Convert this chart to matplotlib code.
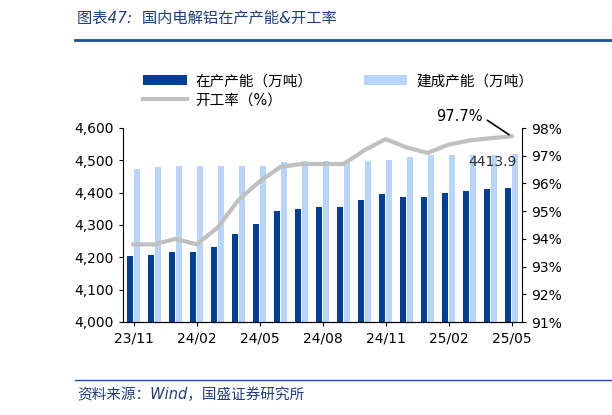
import matplotlib
matplotlib.use("Agg")
import matplotlib.pyplot as plt
import numpy as np

plt.rcParams['font.family'] = ['DejaVu Sans', 'Noto Sans CJK SC']

months = ["23/11","23/12","24/01","24/02","24/03","24/04","24/05","24/06","24/07","24/08",
          "24/09","24/10","24/11","24/12","25/01","25/02","25/03","25/04","25/05"]
running = [4203,4206,4215,4215,4232,4272,4304,4343,4351,4355,4355,4377,4397,4388,4388,4399,4404,4410,4413.9]
built = [4474,4479,4483,4483,4483,4483,4483,4494,4499,4499,4499,4499,4502,4511,4518,4516,4516,4516,4519]
rate = [93.8,93.8,94.0,93.8,94.4,95.4,96.07,96.6,96.7,96.7,96.7,97.2,97.6,97.3,97.1,97.4,97.55,97.63,97.7]

fig = plt.figure(figsize=(6.12,4.15), dpi=100)
ax = fig.add_axes([123/612, 1-322/415, 399/612, 194/415])
x = np.arange(len(months))
w = 0.3
ax.bar(x-w/2-0.01, running, w, color='#003f98', label='在产产能（万吨）', zorder=2)
ax.bar(x+w/2+0.01, built, w, color='#b8d6fd', label='建成产能（万吨）', zorder=2)
ax.set_ylim(4000,4600)
ax.set_yticks(range(4000,4601,100))
ax.set_yticklabels([f"{v:,}" for v in range(4000,4601,100)])
ax.set_xlim(-0.5, len(months)-0.5)
ax.set_xticks(x[::3])
ax.set_xticklabels(months[::3])
ax.tick_params(labelsize=10, length=3, direction='out')
for s in ['top','right']:
    ax.spines[s].set_visible(False)
ax.annotate("4413.9", (x[-1], running[-1]), xytext=(x[-1]-0.9, 4482), ha='center', fontsize=10, color='#333333')

ax2 = ax.twinx()
ax2.plot(x, rate, color='#c0c0c0', lw=3, label='开工率（%）', zorder=3)
ax2.set_ylim(91,98)
ax2.set_yticks(range(91,99))
ax2.set_yticklabels([f"{v}%" for v in range(91,99)])
ax2.tick_params(labelsize=10, length=3)
for s in ['top','left']:
    ax2.spines[s].set_visible(False)
ax2.annotate("97.7%", (x[-1], rate[-1]), xytext=(x[-1]-2.5, 98.4), ha='center', va='center', fontsize=10.5,
             arrowprops=dict(arrowstyle='-', color='black', lw=1.2, relpos=(1,0.5)), annotation_clip=False)

h1,l1 = ax.get_legend_handles_labels()
h2,l2 = ax2.get_legend_handles_labels()
fig.legend([h1[0], h2[0], h1[1]], [l1[0], l2[0], l1[1]], loc='upper left', bbox_to_anchor=(130/612, 1-60/415), ncol=2, frameon=False,
           fontsize=10.5, handlelength=3, columnspacing=3.5, handletextpad=0.6, labelspacing=0.3)

fig.text(77/612, 1-18/415, "图表47:  国内电解铝在产产能&开工率", fontsize=11, color='#1f3f7f', style='italic', va='center')
fig.add_artist(plt.Line2D([75/612, 1], [1-40/415]*2, color='#1f4fa0', lw=2))
fig.add_artist(plt.Line2D([75/612, 1], [1-380/415]*2, color='#1f4fa0', lw=1))
fig.text(77/612, 1-395/415, "资料来源：Wind，国盛证券研究所", fontsize=10.5, color='#1f3f7f', style='italic', va='center')
fig.savefig("out.png", dpi=100)
